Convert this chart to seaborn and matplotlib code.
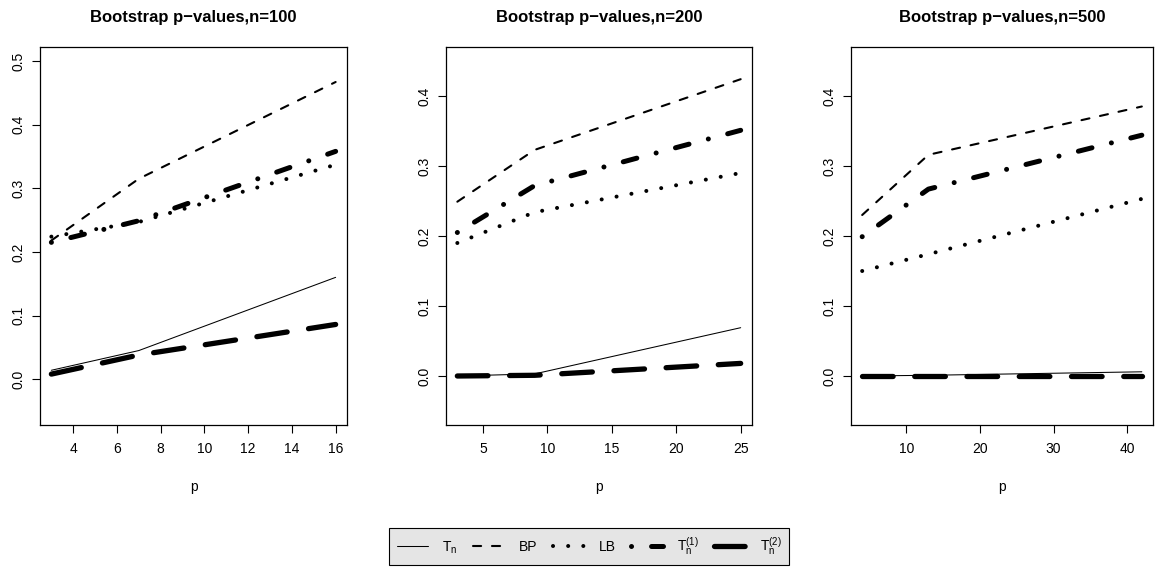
import numpy as np
import pandas as pd
import matplotlib
matplotlib.use("Agg")
import matplotlib.pyplot as plt
import seaborn as sns

# ---------------- data ----------------
titles = ["Bootstrap p\u2212values,n=100",
          "Bootstrap p\u2212values,n=200",
          "Bootstrap p\u2212values,n=500"]

p_100 = [3, 7, 16]
Tn_100 = [0.014, 0.045, 0.160]
BP_100 = [0.218, 0.315, 0.467]
LB_100 = [0.224, 0.247, 0.337]
T1_100 = [0.215, 0.249, 0.358]
T2_100 = [0.008, 0.038, 0.086]

p_200 = [3, 9, 25]
Tn_200 = [0.000, 0.003, 0.069]
BP_200 = [0.249, 0.323, 0.424]
LB_200 = [0.190, 0.234, 0.290]
T1_200 = [0.205, 0.272, 0.351]
T2_200 = [0.000, 0.001, 0.018]

p_500 = [4, 13, 42]
Tn_500 = [0.000, 0.001, 0.006]
BP_500 = [0.230, 0.316, 0.385]
LB_500 = [0.150, 0.174, 0.253]
T1_500 = [0.199, 0.267, 0.344]
T2_500 = [0.000, 0.000, 0.000]

series_names = ["Tn", "BP", "LB", "T1", "T2"]
legend_labels = [r"$\mathregular{T_n}$", "BP", "LB",
                 r"$\mathregular{T_n^{(1)}}$", r"$\mathregular{T_n^{(2)}}$"]

panels = [
    (p_100, [Tn_100, BP_100, LB_100, T1_100, T2_100]),
    (p_200, [Tn_200, BP_200, LB_200, T1_200, T2_200]),
    (p_500, [Tn_500, BP_500, LB_500, T1_500, T2_500]),
]
xticks = [[4, 6, 8, 10, 12, 14, 16], [5, 10, 15, 20, 25], [10, 20, 30, 40]]
yticks = [[0.0, 0.1, 0.2, 0.3, 0.4, 0.5], [0.0, 0.1, 0.2, 0.3, 0.4], [0.0, 0.1, 0.2, 0.3, 0.4]]
ylims = [(-0.05, 0.5), (-0.05, 0.45), (-0.05, 0.45)]

# ---------------- styles ----------------
line_styles = {
    "Tn": dict(lw=0.75, dashes=None),
    "BP": dict(lw=1.5, dashes=(3.9, 5.2)),
    "LB": dict(lw=2.9, dashes=(0.01, 3.75)),
    "T1": dict(lw=3.6, dashes=(0.01, 4.0, 2.8, 4.0)),
    "T2": dict(lw=3.8, dashes=(5.8, 4.1)),
}

sns.set_theme(style="white")
plt.rcParams["font.family"] = ["Liberation Sans", "DejaVu Sans"]
plt.rcParams["mathtext.fontset"] = "custom"
plt.rcParams["mathtext.rm"] = "Liberation Sans"
plt.rcParams["axes.unicode_minus"] = True
for k in ["text.color", "axes.labelcolor", "xtick.color", "ytick.color", "axes.edgecolor"]:
    plt.rcParams[k] = "black"

W, H = 1160, 576
fig = plt.figure(figsize=(W / 100, H / 100), dpi=100)
fig.patch.set_facecolor("white")

boxes = [(40, 347), (446, 752), (851, 1153)]
top_px, bot_px = 47, 425

handles = None
for i, ((px, vals), (l, r)) in enumerate(zip(panels, boxes)):
    ax = fig.add_axes([l / W, (H - bot_px) / H, (r - l) / W, (bot_px - top_px) / H])
    ax.set_facecolor("white")
    hs = []
    for name, v in zip(series_names, vals):
        df = pd.DataFrame({"p": px, "val": v})
        st = line_styles[name]
        sns.lineplot(data=df, x="p", y="val", ax=ax, color="black",
                     linewidth=st["lw"], estimator=None, sort=False, legend=False)
        ln = ax.lines[-1]
        if st["dashes"] is not None:
            ln.set_dashes(st["dashes"])
        ln.set_dash_capstyle("round")
        ln.set_solid_capstyle("round")
        ln.set_dash_joinstyle("round")
        hs.append(ln)
    if handles is None:
        handles = hs
    x0, x1 = min(px), max(px)
    dx = (x1 - x0) * 0.04
    ax.set_xlim(x0 - dx, x1 + dx)
    y0, y1 = ylims[i]
    dy = (y1 - y0) * 0.04
    ax.set_ylim(y0 - dy, y1 + dy)
    ax.set_xticks(xticks[i])
    ax.set_yticks(yticks[i])
    ax.set_yticklabels([f"{t:.1f}" for t in yticks[i]], rotation=90, va="center")
    ax.tick_params(axis="both", direction="out", length=5.5, width=0.8,
                   color="black", labelsize=10, labelcolor="black",
                   bottom=True, left=True)
    ax.tick_params(axis="x", pad=7)
    ax.tick_params(axis="y", pad=5)
    ax.set_xlabel("p", fontsize=10, labelpad=17)
    ax.set_ylabel("")
    for s in ax.spines.values():
        s.set_color("black")
        s.set_linewidth(0.9)
    ax.set_title(titles[i], fontsize=12, fontweight="bold", pad=18)

leg = fig.legend(handles, legend_labels, loc="center",
                 bbox_to_anchor=(589 / W, 1 - 546.5 / H),
                 ncol=5, frameon=True, fancybox=False, framealpha=1,
                 facecolor="#e5e5e5", edgecolor="black", fontsize=10,
                 handlelength=2.3, handletextpad=1.0, columnspacing=1.1,
                 borderpad=0.55, borderaxespad=0)
leg.get_frame().set_linewidth(0.8)

fig.savefig("out.png", dpi=100)
